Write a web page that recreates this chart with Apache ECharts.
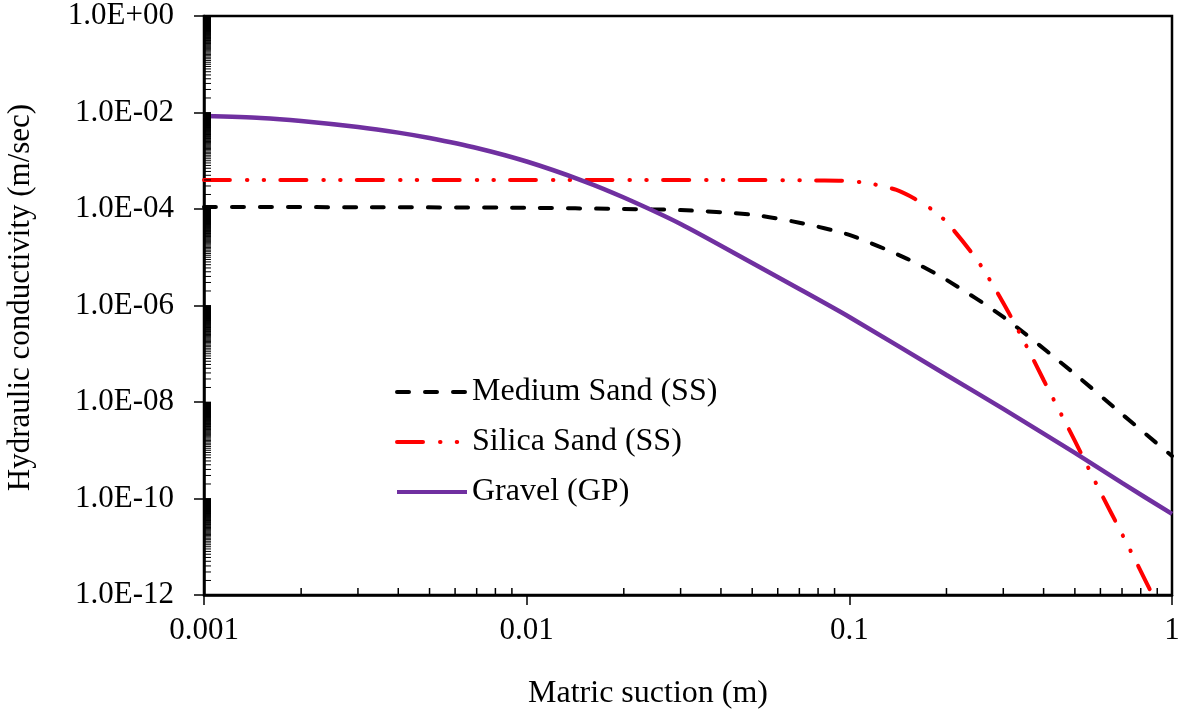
<!DOCTYPE html>
<html>
<head>
<meta charset="utf-8">
<script src="https://cdn.jsdelivr.net/npm/echarts@6/dist/echarts.min.js"></script>
<style>
html,body{margin:0;padding:0;background:#fff;}
#chart{width:1178px;height:713px;}
</style>
</head>
<body>
<div id="chart"></div>
<script>
// ---- data ----
const seriesNames = ['Medium Sand (SS)', 'Silica Sand (SS)', 'Gravel (GP)'];

const mediumSandSuction = [0.001, 0.003, 0.01, 0.02, 0.03, 0.05, 0.07, 0.1, 0.15, 0.2, 0.3, 0.5, 0.7, 1];
const mediumSandK = [1.1e-4, 1.09e-4, 1.06e-4, 1.0e-4, 9.5e-5, 7.6e-5, 5.2e-5, 2.9e-5, 9.5e-6, 3.4e-6, 5.8e-7, 3.8e-8, 5.6e-9, 7.6e-10];

const silicaSandSuction = [0.001, 0.01, 0.05, 0.08, 0.1, 0.12, 0.14, 0.16, 0.18, 0.2, 0.25, 0.3, 0.35, 0.4, 0.5, 0.6, 0.7, 0.8, 0.87];
const silicaSandK = [3.99e-4, 3.99e-4, 3.99e-4, 3.9e-4, 3.8e-4, 3.22e-4, 2.48e-4, 1.61e-4, 9.8e-5, 5.4e-5, 8.4e-6, 1.13e-6, 1.67e-7, 2.86e-8, 1.56e-9, 1.36e-10, 1.84e-11, 3.14e-12, 1.0e-12];

const gravelSuction = [0.001, 0.0015, 0.002, 0.003, 0.004, 0.005, 0.007, 0.01, 0.015, 0.02, 0.03, 0.05, 0.07, 0.1, 0.2, 0.3, 0.5, 0.7, 1];
const gravelK = [8.46e-3, 7.7e-3, 6.67e-3, 5.0e-3, 3.83e-3, 2.96e-3, 1.84e-3, 9.64e-4, 3.8e-4, 1.73e-4, 4.89e-5, 7.6e-6, 2.2e-6, 5.78e-7, 3.63e-8, 7.2e-9, 8.8e-10, 2.1e-10, 4.8e-11];

// axis ranges
const xMin = 0.001, xMax = 1;
const yMin = 1e-12, yMax = 1;

// minor tick values (Excel style: y axis base 100, x axis base 10)
const yMinorTicks = [];
for (let e = -12; e < 0; e += 2) for (let m = 2; m < 100; m++) yMinorTicks.push(m * Math.pow(10, e));
const xMinorTicks = [];
for (let e = -3; e < 0; e++) for (let m = 2; m < 10; m++) xMinorTicks.push(m * Math.pow(10, e));

const FONT = 'Liberation Serif';

function zip(xs, ys) { return xs.map((x, i) => [x, ys[i]]); }

function fmtY(v) {
  const e = Math.round(Math.log10(v));
  const a = Math.abs(e);
  return '1.0E' + (e < 0 ? '-' : '+') + (a < 10 ? '0' + a : '' + a);
}
function fmtX(v) {
  const e = Math.round(Math.log10(v));
  return e < 0 ? v.toFixed(-e) : String(Math.round(v));
}

const chart = echarts.init(document.getElementById('chart'), null, {renderer: 'canvas'});

const option = {
  backgroundColor: '#fff',
  animation: false,
  grid: {
    left: 204, right: 6, top: 16, bottom: 118,
    containLabel: false,
    outerBoundsMode: 'none',
    show: true, borderColor: '#000', borderWidth: 2.5, backgroundColor: 'transparent'
  },
  legend: {
    data: seriesNames,
    orient: 'vertical',
    left: 390,
    top: 371,
    itemWidth: 70,
    itemHeight: 14,
    itemGap: 18,
    itemStyle: {opacity: 0},
    lineStyle: {width: 4},
    textStyle: {fontFamily: FONT, fontSize: 32, color: '#000'},
    backgroundColor: 'transparent'
  },
  xAxis: {
    type: 'log',
    logBase: 10,
    min: xMin, max: xMax,
    name: 'Matric suction (m)',
    nameLocation: 'middle',
    nameGap: 83,
    nameTextStyle: {fontFamily: FONT, fontSize: 32, color: '#000', padding: [0, 80, 0, 0]},
    axisLine: {show: true, lineStyle: {color: '#000', width: 2.5}},
    axisTick: {show: true, inside: false, length: 10, lineStyle: {color: '#000', width: 1.5}},
    minorTick: {show: false},
    splitLine: {show: false},
    axisLabel: {fontFamily: FONT, fontSize: 31, color: '#000', margin: 20, formatter: fmtX, showMaxLabel: true, showMinLabel: true}
  },
  yAxis: {
    type: 'log',
    logBase: 100,
    min: yMin, max: yMax,
    name: 'Hydraulic conductivity (m/sec)',
    nameLocation: 'middle',
    nameGap: 168,
    nameTextStyle: {fontFamily: FONT, fontSize: 31, color: '#000', padding: [0, 0, 0, 16]},
    axisLine: {show: true, lineStyle: {color: '#000', width: 2.5}},
    axisTick: {show: true, inside: false, length: 10, lineStyle: {color: '#000', width: 1.5}},
    minorTick: {show: false},
    splitLine: {show: false},
    axisLabel: {fontFamily: FONT, fontSize: 31, color: '#000', margin: 30, formatter: fmtY, showMaxLabel: true, showMinLabel: true}
  },
  series: [
    {
      name: seriesNames[0],
      type: 'line',
      data: zip(mediumSandSuction, mediumSandK),
      showSymbol: false, symbol: 'none', smooth: 0.25,
      lineStyle: {color: '#000', width: 4, type: [12, 16], cap: 'round'},
      itemStyle: {color: '#000'},
      z: 3
    },
    {
      name: seriesNames[1],
      type: 'line',
      data: zip(silicaSandSuction, silicaSandK),
      showSymbol: false, symbol: 'none', smooth: 0.25,
      lineStyle: {color: '#ff0000', width: 4, type: [26, 17, 0.5, 16.2, 0.5, 16.3], cap: 'round'},
      itemStyle: {color: '#ff0000'},
      z: 3
    },
    {
      name: seriesNames[2],
      type: 'line',
      data: zip(gravelSuction, gravelK),
      showSymbol: false, symbol: 'none', smooth: 0.25,
      lineStyle: {color: '#7030a0', width: 4.5},
      itemStyle: {color: '#7030a0'},
      z: 3
    },
    {
      name: 'yMinor',
      type: 'custom',
      silent: true,
      clip: false,
      z: 4,
      data: yMinorTicks.map(v => [xMin, v]),
      renderItem: function (params, api) {
        const p = api.coord([api.value(0), api.value(1)]);
        return {type: 'line', shape: {x1: p[0], y1: p[1], x2: p[0] + 7, y2: p[1]}, style: {stroke: '#000', lineWidth: 1}};
      }
    },
    {
      name: 'xMinor',
      type: 'custom',
      silent: true,
      clip: false,
      z: 4,
      data: xMinorTicks.map(v => [v, yMin]),
      renderItem: function (params, api) {
        const p = api.coord([api.value(0), api.value(1)]);
        return {type: 'line', shape: {x1: p[0], y1: p[1], x2: p[0], y2: p[1] - 7}, style: {stroke: '#000', lineWidth: 1.5}};
      }
    }
  ]
};
chart.setOption(option);
</script>
</body>
</html>
